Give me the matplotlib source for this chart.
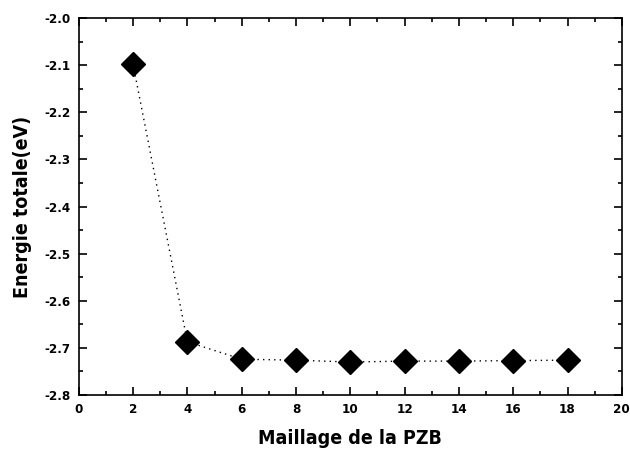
import matplotlib
matplotlib.use("Agg")
import matplotlib.pyplot as plt
from matplotlib.ticker import MultipleLocator

# maillage de la PZB et energie totale
maillage = [2, 4, 6, 8, 10, 12, 14, 16, 18]
energie = [-2.098, -2.687, -2.724, -2.726, -2.730, -2.728, -2.728, -2.727, -2.726]

plt.rcParams['font.family'] = ['DejaVu Sans']
plt.rcParams['font.stretch'] = 'condensed'
plt.rcParams['font.weight'] = 'bold'

fig = plt.figure(figsize=(6.3, 4.53), dpi=100)
ax = fig.add_axes([0.125, 0.128, 0.862, 0.832])

ax.plot(maillage, energie, color='black', linestyle=(0, (1, 3)), linewidth=1.0,
        marker='D', markersize=12, markerfacecolor='black', markeredgecolor='black')

ax.set_xlim(0, 20)
ax.set_ylim(-2.8, -2.0)
ax.xaxis.set_major_locator(MultipleLocator(2))
ax.xaxis.set_minor_locator(MultipleLocator(1))
ax.yaxis.set_major_locator(MultipleLocator(0.1))
ax.yaxis.set_minor_locator(MultipleLocator(0.05))
ax.yaxis.set_major_formatter(plt.FuncFormatter(lambda v, p: f"{v:.1f}"))

ax.tick_params(which='both', direction='in', top=True, right=True, width=1.2)
ax.tick_params(which='major', length=6, labelsize=9.5, pad=6)
ax.tick_params(which='minor', length=3)
for s in ax.spines.values():
    s.set_linewidth(1.2)

ax.set_xlabel('Maillage de la PZB', fontsize=14, fontweight='bold', labelpad=9)
ax.set_ylabel('Energie totale(eV)', fontsize=14, fontweight='bold', labelpad=9)

fig.savefig('out.png', dpi=100)
